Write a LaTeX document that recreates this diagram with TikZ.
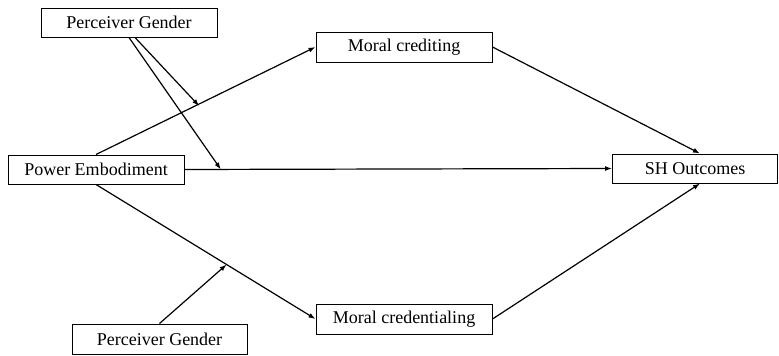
\documentclass[tikz,border=0pt]{standalone}
\usepackage{fontspec}
\setmainfont{Liberation Serif}
\usetikzlibrary{arrows.meta,calc}
\begin{document}
\begin{tikzpicture}[x=1pt,y=-1pt,
  box/.style={draw,line width=1pt,inner sep=0pt,font=\rmfamily\fontsize{18}{20}\selectfont},
  arr/.style={line width=1.2pt,-{Latex[length=7pt,width=5pt]}}]
\useasboundingbox (0,0) rectangle (779,356);
\node[box,minimum width=176pt,minimum height=29pt] (pg1) at (129,22.5) {Perceiver Gender};
\node[box,minimum width=176pt,minimum height=29pt] (pe) at (96,169.5) {Power Embodiment};
\node[box,minimum width=176pt,minimum height=30pt] (mc) at (404,47) {Moral crediting};
\node[box,minimum width=165pt,minimum height=29pt] (sh) at (695,168.5) {SH Outcomes};
\node[box,minimum width=176pt,minimum height=30pt] (mcr) at (404,319) {Moral credentialing};
\node[box,minimum width=175pt,minimum height=30pt] (pg2) at (159.5,339) {Perceiver Gender};

\draw[arr] (pe.north) -- (mc.west);
\draw[arr] (pe.south) -- (mcr.west);
\draw[arr] (pe.east) -- (sh.west);
\draw[arr] (mc.east) -- ([xshift=5pt]sh.north);
\draw[arr] (mcr.east) -- ([xshift=5pt]sh.south);

\coordinate (m1) at ($(pe.north)!0.47!(mc.west)$);
\coordinate (m2) at ($(pe.east)!0.085!(sh.west)$);
\coordinate (m3) at ($(pe.south)!0.595!(mcr.west)$);
\draw[arr] ([xshift=6pt]pg1.south) -- ([yshift=-2pt]m1);
\draw[arr] (pg1.south) -- (m2);
\draw[arr] (pg2.north) -- (m3);
\end{tikzpicture}
\end{document}
